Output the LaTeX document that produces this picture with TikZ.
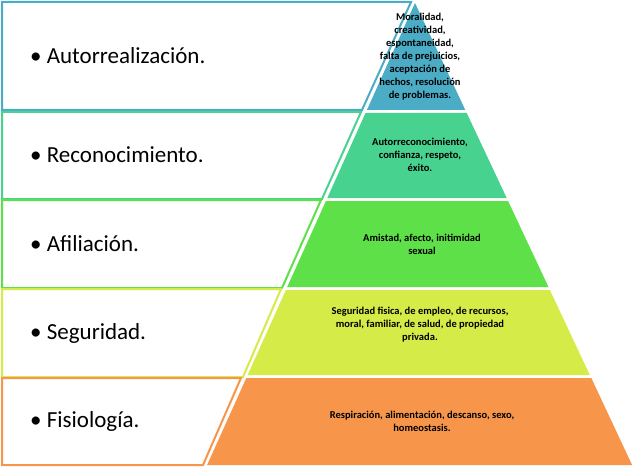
\documentclass[tikz,border=0pt]{standalone}
\usepackage{fontspec}
\setmainfont{Carlito}
\definecolor{cA}{HTML}{4BACC6}
\definecolor{cB}{HTML}{48D28F}
\definecolor{cC}{HTML}{5EE048}
\definecolor{cD}{HTML}{D5EB48}
\definecolor{cE}{HTML}{F7964A}
\tikzset{band/.style={fill=#1,draw=none},
 box/.style={draw=#1,line width=2pt,fill=white},
 lab/.style={anchor=west,font=\fontsize{23}{27}\selectfont,inner sep=0},
 ptxt/.style={align=center,font=\bfseries\fontsize{10.5}{13}\selectfont,inner sep=0}}
\begin{document}
\begin{tikzpicture}[x=1pt,y=-1pt]
\useasboundingbox (0,0) rectangle (640,468);
% boxes
\draw[box=cA] (2,2) -- (411,2) -- (362,110) -- (2,110) -- cycle;
\draw[box=cB] (2,112) -- (361,112) -- (322,199) -- (2,199) -- cycle;
\draw[box=cC] (2,200) -- (321,200) -- (282,288) -- (2,288) -- cycle;
\draw[box=cD] (2,289) -- (281,289) -- (243,377) -- (2,377) -- cycle;
\draw[box=cE] (2,378) -- (241,378) -- (203,465) -- (2,465) -- cycle;
% bands
\fill[band=cA] (415,3) -- (465.3,110) -- (366.9,110) -- cycle;
\fill[band=cB] (365.5,113) -- (466.7,113) -- (506.7,198) -- (327.3,198) -- cycle;
\fill[band=cC] (325.9,201) -- (508.1,201) -- (548.5,287) -- (287.2,287) -- cycle;
\fill[band=cD] (285.9,290) -- (549.9,290) -- (589.8,375) -- (247.6,375) -- cycle;
\fill[band=cE] (246.3,378) -- (591.3,378) -- (632.1,465) -- (207.1,465) -- cycle;
% labels
\node[lab] (l1) at (30,56) {• Autorrealización.};
\node[lab] (l2) at (30,155) {• Reconocimiento.};
\node[lab] (l3) at (30,244) {• Afiliación.};
\node[lab] (l4) at (30,333) {• Seguridad.};
\node[lab] (l5) at (30,421) {• Fisiología.};
\node[ptxt] (t1) at (420,57) {Moralidad,\\creatividad,\\espontaneidad,\\falta de prejuicios,\\aceptación de\\hechos, resolución\\de problemas.};
\node[ptxt] (t2) at (420,155) {Autorreconocimiento,\\confianza, respeto,\\éxito.};
\node[ptxt] (t3) at (422,244) {Amistad, afecto, initimidad\\sexual};
\node[ptxt] (t4) at (420,325) {Seguridad fisica, de empleo, de recursos,\\moral, familiar, de salud, de propiedad\\privada.};
\node[ptxt] (t5) at (422,421) {Respiración, alimentación, descanso, sexo,\\homeostasis.};
\end{tikzpicture}
\end{document}
